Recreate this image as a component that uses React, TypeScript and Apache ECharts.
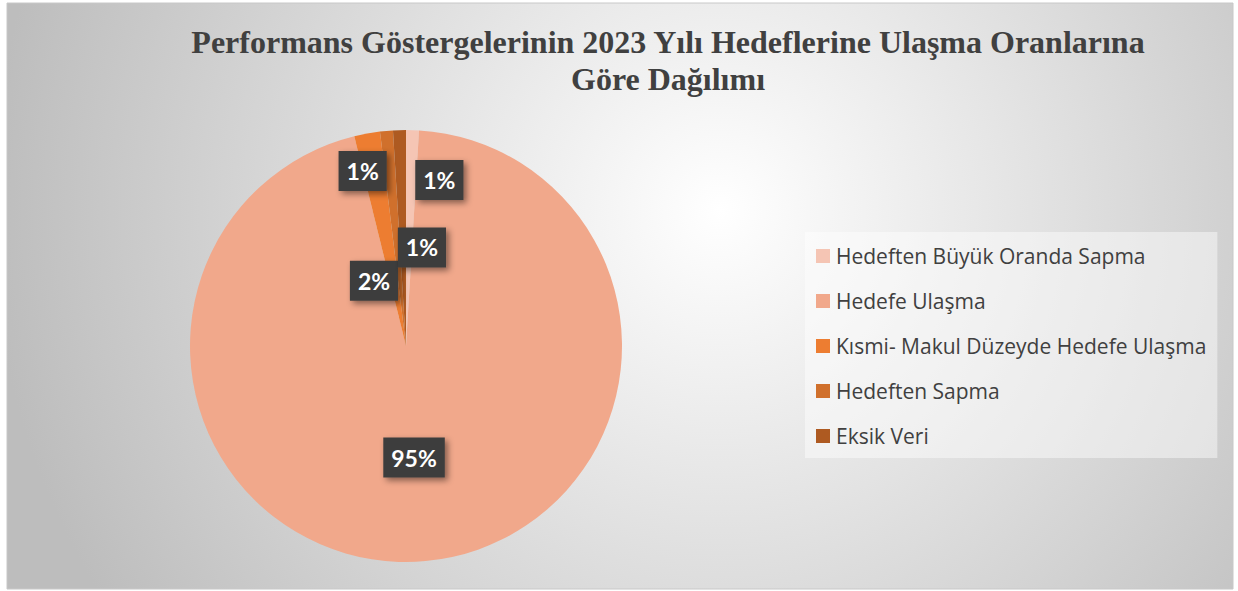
import React, { useEffect, useRef } from "react";
import * as echarts from "echarts";

const categories = [
  "Hedeften Büyük Oranda Sapma",
  "Hedefe Ulaşma",
  "Kısmi- Makul Düzeyde Hedefe Ulaşma",
  "Hedeften Sapma",
  "Eksik Veri",
];
const values = [1, 99, 2, 1, 1];
const colors = ["#F5C5B4", "#F1A88B", "#ED7D31", "#D0702C", "#AE5A21"];
const labelOffsets = [
  [30, -55],
  [-2, 1],
  [-12, 44],
  [26, 12],
  [-40, -64],
];
const titleText = "Performans Göstergelerinin 2023 Yılı Hedeflerine Ulaşma Oranlarına\nGöre Dağılımı";

export default function App() {
  const ref = useRef<HTMLDivElement>(null);
  useEffect(() => {
    if (!ref.current) return;
    const chart = echarts.init(ref.current, null, { renderer: "svg" });
    const total = values.reduce((a, b) => a + b, 0);
    chart.setOption({
      animation: false,
      graphic: [
        {
          type: "rect",
          z: -10,
          silent: true,
          shape: { x: 7, y: 3, width: 1226, height: 586 },
          style: {
            fill: {
              type: "radial",
              x: 720,
              y: 210,
              r: 730,
              global: true,
              colorStops: [
                { offset: 0, color: "#ffffff" },
                { offset: 1, color: "#bdbdbd" },
              ],
            },
            stroke: "#c8c8c8",
            lineWidth: 1,
          },
        },
      ],
      title: {
        text: titleText,
        left: 663,
        top: 18,
        textAlign: "center",
        textStyle: {
          fontFamily: "Liberation Serif",
          fontWeight: "bold",
          fontSize: 32,
          lineHeight: 37,
          color: "#404040",
        },
      },
      legend: {
        orient: "vertical",
        left: 805,
        top: 232,
        padding: [12, 11, 10, 11],
        itemGap: 21,
        itemWidth: 14,
        itemHeight: 14,
        icon: "rect",
        backgroundColor: "rgba(255,255,255,0.45)",
        data: categories,
        textStyle: {
          fontFamily: "Open Sans",
          fontSize: 21,
          color: "#404040",
          lineHeight: 24,
          padding: [0, 0, 0, 1],
        },
      },
      series: [
        {
          type: "pie",
          center: [406, 346],
          radius: [0, 216],
          startAngle: 90,
          clockwise: true,
          avoidLabelOverlap: false,
          itemStyle: { borderWidth: 0 },
          label: {
            show: true,
            position: "inside",
            formatter: (p: any) => Math.round((p.value / total) * 100) + "%",
            color: "#ffffff",
            fontFamily: "Lato",
            fontWeight: "bold",
            fontSize: 23,
            lineHeight: 26,
            backgroundColor: "#3e3e3e",
            padding: [7, 8, 7, 8],
            shadowColor: "rgba(0,0,0,0.45)",
            shadowBlur: 6,
            shadowOffsetX: 3,
            shadowOffsetY: 3,
          },
          labelLine: { show: false },
          labelLayout: (params: any) => {
            const o = labelOffsets[params.dataIndex];
            return { dx: o[0], dy: o[1] };
          },
          emphasis: { disabled: true },
          data: categories.map((c, i) => ({
            name: c,
            value: values[i],
            itemStyle: { color: colors[i] },
          })),
        },
      ],
    });
    return () => chart.dispose();
  }, []);
  return (
    <div
      ref={ref}
      style={{ position: "absolute", left: 0, top: 0, width: 1238, height: 591 }}
    />
  );
}
